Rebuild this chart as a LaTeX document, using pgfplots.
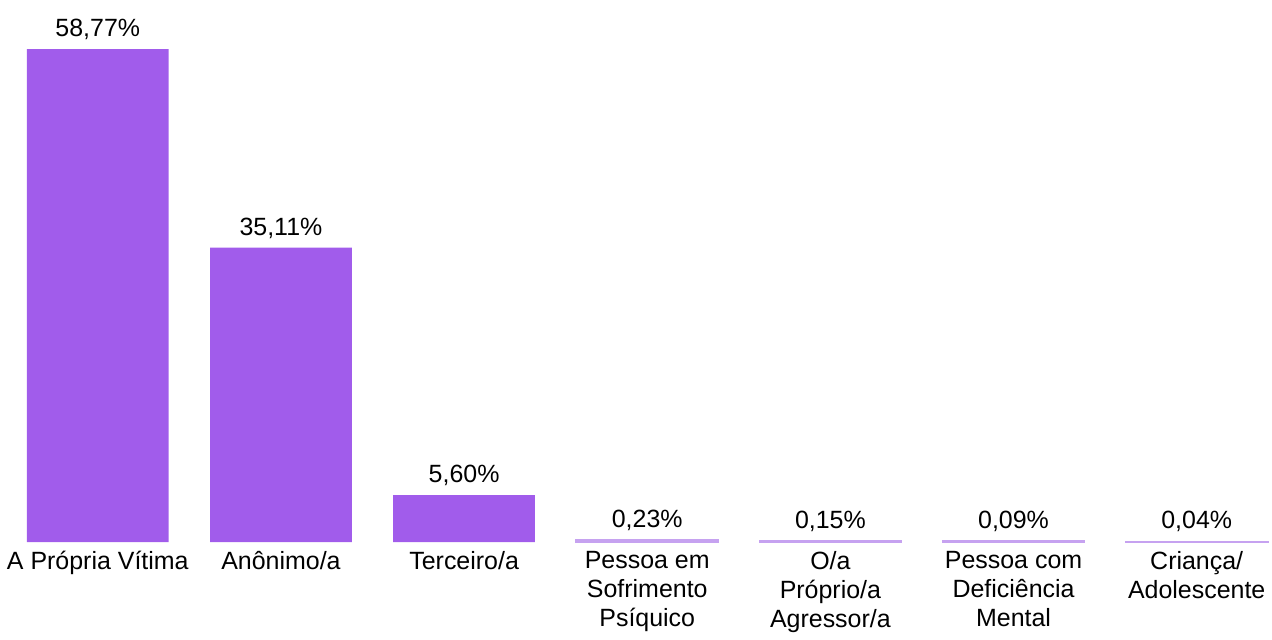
\documentclass[border=0pt]{standalone}
\usepackage{fontspec}
\setmainfont{Liberation Sans}
\usepackage{pgfplots}
\pgfplotsset{compat=1.18}

\definecolor{roxo}{RGB}{161,92,235}
\definecolor{roxoclaro}{RGB}{198,162,240}

\begin{document}
\begin{tikzpicture}
  \begin{axis}[
      scale only axis, width=636pt, height=271.5pt,
      xmin=-0.534, xmax=6.398, ymin=0, ymax=64.6,
      clip=false,
      ybar, bar width=0.774,
      axis line style={draw=none},
      major tick length=0pt,
      ytick=\empty,
      xtick={0,1,2,3,4,5,6},
      xticklabels={
        {A Própria Vítima}, {Anônimo/a}, {Terceiro/a},
        {Pessoa em\\Sofrimento\\Psíquico},
        {O/a\\Próprio/a\\Agressor/a},
        {Pessoa com\\Deficiência\\Mental},
        {Criança/\\Adolescente}},
      xticklabel style={align=center, anchor=north, yshift=-1pt,
                        font=\fontsize{12.5}{14.5}\selectfont},
      nodes near coords={\pgfmathprintnumber[fixed,fixed zerofill,precision=2,use comma]{\pgfplotspointmeta}\%},
      every node near coord/.append style={font=\fontsize{12.5}{14.5}\selectfont,
                        black, yshift=1pt},
      /pgf/number format/assume math mode=true,
    ]
    \addplot[fill=roxo, draw=none, bar shift=0pt]
      coordinates {(0,58.77)(1,35.11)(2,5.60)};
    \addplot[fill=roxoclaro, draw=roxoclaro, line width=1pt, bar shift=0pt]
      coordinates {(3,0.23)(4,0.15)(5,0.09)(6,0.04)};
    \path (rel axis cs:0,0) rectangle (rel axis cs:1,1);
  \end{axis}
\end{tikzpicture}
\end{document}
